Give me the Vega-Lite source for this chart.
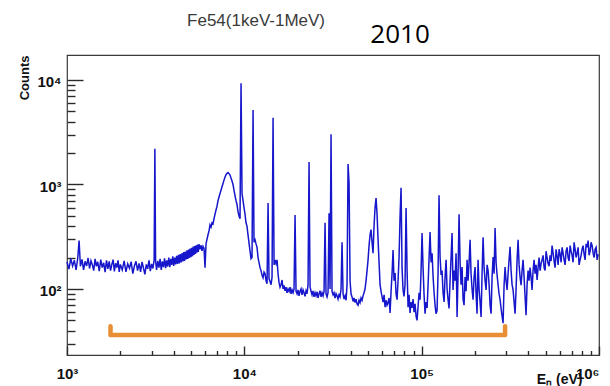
{
  "$schema": "https://vega.github.io/schema/vega-lite/v6.json",
  "width": 532,
  "height": 300,
  "autosize": {"type": "none"},
  "padding": {"left": 67, "top": 55, "right": 11, "bottom": 31},
  "background": "white",
  "config": {
    "view": {"stroke": "#3a3a3a", "strokeWidth": 1.2},
    "axis": {"grid": false, "domain": false, "labelFont": "Liberation Sans", "titleFont": "Liberation Sans"}
  },
  "datasets": {
    "spectrum": [
      {"E":1000,"counts":182},{"E":1025,"counts":155},{"E":1050,"counts":195},{"E":1075,"counts":166},{"E":1100,"counts":188},{"E":1125,"counts":152},{"E":1150,"counts":198},{"E":1170,"counts":290},{"E":1190,"counts":165},{"E":1215,"counts":192},{"E":1240,"counts":152},{"E":1265,"counts":184},{"E":1290,"counts":166},{"E":1315,"counts":198},{"E":1340,"counts":157},{"E":1365,"counts":186},{"E":1390,"counts":170},{"E":1415,"counts":150},{"E":1440,"counts":194},{"E":1465,"counts":165},{"E":1490,"counts":182},{"E":1520,"counts":148},{"E":1550,"counts":191},{"E":1580,"counts":160},{"E":1610,"counts":178},{"E":1640,"counts":145},{"E":1670,"counts":188},{"E":1700,"counts":156},{"E":1730,"counts":184},{"E":1760,"counts":150},{"E":1790,"counts":172},{"E":1820,"counts":191},{"E":1850,"counts":147},{"E":1880,"counts":176},{"E":1910,"counts":160},{"E":1940,"counts":188},{"E":1970,"counts":146},{"E":2000,"counts":172},{"E":2050,"counts":152},{"E":2100,"counts":186},{"E":2150,"counts":146},{"E":2200,"counts":174},{"E":2250,"counts":158},{"E":2300,"counts":182},{"E":2350,"counts":140},{"E":2400,"counts":166},{"E":2450,"counts":184},{"E":2500,"counts":150},{"E":2550,"counts":176},{"E":2600,"counts":146},{"E":2650,"counts":182},{"E":2700,"counts":158},{"E":2750,"counts":138},{"E":2800,"counts":172},{"E":2850,"counts":156},{"E":2900,"counts":188},{"E":2950,"counts":148},{"E":3000,"counts":174},{"E":3050,"counts":157},{"E":3100,"counts":190},{"E":3130,"counts":2200},{"E":3160,"counts":184},{"E":3200,"counts":152},{"E":3250,"counts":186},{"E":3300,"counts":160},{"E":3350,"counts":194},{"E":3400,"counts":152},{"E":3450,"counts":184},{"E":3500,"counts":162},{"E":3550,"counts":196},{"E":3600,"counts":158},{"E":3650,"counts":188},{"E":3700,"counts":164},{"E":3750,"counts":200},{"E":3800,"counts":162},{"E":3850,"counts":194},{"E":3900,"counts":170},{"E":3950,"counts":205},{"E":4000,"counts":166},{"E":4050,"counts":200},{"E":4100,"counts":172},{"E":4150,"counts":208},{"E":4200,"counts":174},{"E":4250,"counts":212},{"E":4300,"counts":176},{"E":4350,"counts":216},{"E":4400,"counts":180},{"E":4450,"counts":220},{"E":4500,"counts":184},{"E":4550,"counts":226},{"E":4600,"counts":186},{"E":4650,"counts":228},{"E":4700,"counts":192},{"E":4750,"counts":234},{"E":4800,"counts":194},{"E":4850,"counts":238},{"E":4900,"counts":198},{"E":4950,"counts":244},{"E":5000,"counts":202},{"E":5050,"counts":248},{"E":5100,"counts":206},{"E":5150,"counts":254},{"E":5200,"counts":212},{"E":5250,"counts":258},{"E":5300,"counts":216},{"E":5350,"counts":262},{"E":5400,"counts":222},{"E":5450,"counts":266},{"E":5500,"counts":226},{"E":5550,"counts":268},
      {"E":5625,"counts":240},{"E":5699,"counts":262},{"E":5773,"counts":232},{"E":5848,"counts":256},{"E":5925,"counts":244},{"E":6003,"counts":160},{"E":6081,"counts":270},{"E":6161,"counts":300},{"E":6241,"counts":330},{"E":6323,"counts":360},{"E":6405,"counts":410},{"E":6489,"counts":390},{"E":6573,"counts":430},{"E":6659,"counts":420},{"E":6746,"counts":470},{"E":6834,"counts":520},{"E":6924,"counts":570},{"E":7014,"counts":620},{"E":7106,"counts":700},{"E":7199,"counts":760},{"E":7293,"counts":820},{"E":7388,"counts":880},{"E":7485,"counts":950},{"E":7583,"counts":1020},{"E":7682,"counts":1100},{"E":7782,"counts":1180},{"E":7884,"counts":1240},{"E":7987,"counts":1280},{"E":8091,"counts":1300},{"E":8197,"counts":1270},{"E":8304,"counts":1230},{"E":8413,"counts":1150},{"E":8522,"counts":1080},{"E":8634,"counts":1000},{"E":8747,"counts":880},{"E":8861,"counts":780},{"E":8977,"counts":700},{"E":9094,"counts":640},{"E":9214,"counts":550},{"E":9334,"counts":500},{"E":9457,"counts":470},{"E":9581,"counts":9300},{"E":9706,"counts":820},{"E":9833,"counts":700},{"E":9961,"counts":600},
      {"E":10090,"counts":520},{"E":10220,"counts":430},{"E":10350,"counts":400},{"E":10490,"counts":330},{"E":10630,"counts":275},{"E":10770,"counts":230},{"E":10910,"counts":195},{"E":11050,"counts":200},{"E":11200,"counts":5160},{"E":11340,"counts":280},{"E":11490,"counts":295},{"E":11640,"counts":270},{"E":11790,"counts":250},{"E":11950,"counts":200},{"E":12100,"counts":180},{"E":12260,"counts":160},{"E":12420,"counts":150},{"E":12590,"counts":135},{"E":12750,"counts":128},{"E":12920,"counts":145},{"E":13090,"counts":140},{"E":13260,"counts":120},{"E":13430,"counts":112},{"E":13610,"counts":665},{"E":13780,"counts":125},{"E":13960,"counts":118},{"E":14150,"counts":110},{"E":14330,"counts":130},{"E":14520,"counts":4360},{"E":14710,"counts":170},{"E":14900,"counts":190},{"E":15100,"counts":175},{"E":15290,"counts":190},{"E":15490,"counts":140},{"E":15700,"counts":115},{"E":15900,"counts":104},{"E":16110,"counts":110},{"E":16320,"counts":122},{"E":16530,"counts":100},{"E":16750,"counts":108},{"E":16970,"counts":96},{"E":17190,"counts":104},{"E":17410,"counts":92},{"E":17640,"counts":100},{"E":17870,"counts":95},{"E":18110,"counts":104},{"E":18340,"counts":90},{"E":18580,"counts":98},{"E":18830,"counts":92},{"E":19070,"counts":100},{"E":19320,"counts":510},{"E":19570,"counts":95},{"E":19830,"counts":90},{"E":20080,"counts":98},{"E":20340,"counts":86},{"E":20610,"counts":95},{"E":20880,"counts":100},{"E":21150,"counts":88},{"E":21430,"counts":98},{"E":21710,"counts":92},{"E":21990,"counts":85},{"E":22280,"counts":96},{"E":22570,"counts":90},{"E":22870,"counts":110},{"E":23170,"counts":1640},{"E":23470,"counts":105},{"E":23780,"counts":95},{"E":24090,"counts":88},{"E":24400,"counts":96},{"E":24720,"counts":84},{"E":25050,"counts":92},{"E":25370,"counts":86},{"E":25710,"counts":94},{"E":26040,"counts":82},{"E":26380,"counts":90},{"E":26730,"counts":96},{"E":27080,"counts":84},{"E":27430,"counts":92},{"E":27790,"counts":86},{"E":28150,"counts":95},{"E":28520,"counts":430},{"E":28890,"counts":90},{"E":29270,"counts":84},{"E":29650,"counts":92},{"E":30040,"counts":530},{"E":30430,"counts":100},{"E":30830,"counts":3030},{"E":31230,"counts":95},{"E":31640,"counts":88},{"E":32050,"counts":92},{"E":32470,"counts":82},{"E":32900,"counts":90},{"E":33330,"counts":86},{"E":33760,"counts":80},{"E":34200,"counts":88},{"E":34650,"counts":84},{"E":35100,"counts":100},{"E":35560,"counts":280},{"E":36030,"counts":90},{"E":36500,"counts":80},{"E":36980,"counts":86},{"E":37460,"counts":78},{"E":37950,"counts":110},{"E":38450,"counts":1570},{"E":38950,"counts":1030},{"E":39460,"counts":120},{"E":39970,"counts":90},{"E":40490,"counts":84},{"E":41020,"counts":76},{"E":41550,"counts":82},{"E":42100,"counts":74},{"E":42660,"counts":80},{"E":43210,"counts":72},{"E":43780,"counts":70},{"E":44350,"counts":78},{"E":44930,"counts":74},{"E":45520,"counts":82},{"E":46110,"counts":78},{"E":46710,"counts":86},{"E":47320,"counts":92},{"E":47940,"counts":100},{"E":48570,"counts":120},{"E":49210,"counts":150},{"E":49850,"counts":190},{"E":50500,"counts":260},{"E":51170,"counts":330},{"E":51830,"counts":370},{"E":52500,"counts":280},{"E":53190,"counts":220},{"E":53890,"counts":400},{"E":54590,"counts":600},{"E":55310,"counts":740},{"E":56030,"counts":520},{"E":56760,"counts":300},{"E":57500,"counts":180},{"E":58260,"counts":110},
      {"E":59020,"counts":95},{"E":59800,"counts":84},{"E":60580,"counts":75},{"E":61380,"counts":88},{"E":62180,"counts":67},{"E":62990,"counts":78},{"E":63810,"counts":70},{"E":64650,"counts":74},{"E":65490,"counts":82},{"E":66350,"counts":59},{"E":67210,"counts":95},{"E":68080,"counts":140},{"E":68970,"counts":236},{"E":69870,"counts":120},{"E":70790,"counts":142},{"E":71710,"counts":90},{"E":72650,"counts":79},{"E":73590,"counts":120},{"E":74550,"counts":200},{"E":75530,"counts":490},{"E":76520,"counts":930},{"E":77510,"counts":160},{"E":78520,"counts":98},{"E":79530,"counts":85},{"E":80570,"counts":110},{"E":81660,"counts":595},{"E":82730,"counts":150},{"E":83810,"counts":67},{"E":84900,"counts":88},{"E":86010,"counts":59},{"E":87130,"counts":75},{"E":88270,"counts":66},{"E":89420,"counts":80},{"E":90600,"counts":60},{"E":91780,"counts":72},{"E":92980,"counts":55},{"E":94190,"counts":50},{"E":95440,"counts":68},{"E":96690,"counts":92},{"E":97950,"counts":79},{"E":99230,"counts":150},{"E":100500,"counts":343},{"E":101800,"counts":162},{"E":103100,"counts":90},{"E":104500,"counts":58},{"E":105900,"counts":75},{"E":107300,"counts":66},{"E":108700,"counts":110},{"E":110100,"counts":200},{"E":111500,"counts":350},{"E":113000,"counts":180},{"E":114500,"counts":220},{"E":116000,"counts":130},{"E":117500,"counts":92},{"E":119000,"counts":70},{"E":120500,"counts":58},{"E":122100,"counts":62},{"E":123700,"counts":140},{"E":125300,"counts":790},{"E":127000,"counts":200},{"E":128700,"counts":136},{"E":130300,"counts":150},{"E":132000,"counts":92},{"E":133800,"counts":75},{"E":135500,"counts":130},{"E":137300,"counts":190},{"E":139100,"counts":100},{"E":140900,"counts":79},{"E":142700,"counts":65},{"E":144600,"counts":120},{"E":146500,"counts":200},{"E":148400,"counts":343},{"E":150300,"counts":98},{"E":152300,"counts":150},{"E":154300,"counts":120},{"E":156300,"counts":220},{"E":158400,"counts":54},{"E":160400,"counts":140},{"E":162500,"counts":520},{"E":164700,"counts":180},{"E":166800,"counts":110},{"E":169000,"counts":162},{"E":171200,"counts":80},{"E":173400,"counts":70},{"E":175700,"counts":130},{"E":178000,"counts":95},{"E":180300,"counts":190},{"E":182700,"counts":120},{"E":185100,"counts":180},{"E":187500,"counts":295},{"E":189900,"counts":140},{"E":192400,"counts":100},{"E":194900,"counts":79},{"E":197500,"counts":130},{"E":200100,"counts":162},{"E":202700,"counts":90},{"E":205300,"counts":58},{"E":208000,"counts":190},{"E":210700,"counts":100},{"E":213500,"counts":75},{"E":216300,"counts":54},{"E":219100,"counts":140},{"E":222000,"counts":313},{"E":224900,"counts":160},{"E":227800,"counts":120},{"E":230800,"counts":98},{"E":233800,"counts":170},{"E":236900,"counts":150},{"E":240000,"counts":110},{"E":243100,"counts":70},{"E":246300,"counts":58},{"E":249500,"counts":130},{"E":252800,"counts":202},{"E":256100,"counts":140},{"E":259400,"counts":384},{"E":262800,"counts":180},{"E":266200,"counts":136},{"E":269700,"counts":110},{"E":273200,"counts":90},{"E":276800,"counts":79},{"E":280400,"counts":65},{"E":284100,"counts":55},{"E":287800,"counts":47},{"E":291600,"counts":110},{"E":295400,"counts":162},{"E":299200,"counts":120},{"E":303100,"counts":98},{"E":307100,"counts":140},{"E":311100,"counts":190},{"E":315200,"counts":253},{"E":319300,"counts":150},{"E":323500,"counts":110},{"E":327700,"counts":98},{"E":332000,"counts":75},{"E":336300,"counts":58},{"E":340700,"counts":100},{"E":345200,"counts":190},{"E":349700,"counts":295},{"E":354300,"counts":170},{"E":358900,"counts":130},{"E":363600,"counts":109},{"E":368300,"counts":150},{"E":373100,"counts":190},{"E":378000,"counts":130},{"E":382900,"counts":85},{"E":387900,"counts":56},{"E":393000,"counts":110},{"E":398200,"counts":150},{"E":403400,"counts":120},{"E":408600,"counts":160},{"E":414000,"counts":130},{"E":419400,"counts":98},{"E":424900,"counts":150},{"E":430500,"counts":190},{"E":436100,"counts":140},{"E":441700,"counts":170},{"E":447500,"counts":122},{"E":453400,"counts":160},{"E":459300,"counts":200},{"E":465300,"counts":150},
      {"E":471400,"counts":175},{"E":477600,"counts":190},{"E":483800,"counts":210},{"E":490200,"counts":160},{"E":496600,"counts":150},{"E":503000,"counts":230},{"E":509600,"counts":200},{"E":516300,"counts":175},{"E":523000,"counts":165},{"E":529900,"counts":210},{"E":536800,"counts":185},{"E":543800,"counts":260},{"E":551000,"counts":220},{"E":558200,"counts":185},{"E":565500,"counts":160},{"E":572800,"counts":240},{"E":580300,"counts":205},{"E":587900,"counts":170},{"E":595600,"counts":240},{"E":603400,"counts":215},{"E":611300,"counts":180},{"E":619300,"counts":250},{"E":627400,"counts":220},{"E":635600,"counts":190},{"E":643900,"counts":170},{"E":652200,"counts":230},{"E":660800,"counts":250},{"E":669400,"counts":200},{"E":678200,"counts":185},{"E":687100,"counts":260},{"E":696100,"counts":230},{"E":705100,"counts":210},{"E":714300,"counts":180},{"E":723700,"counts":280},{"E":733100,"counts":240},{"E":742700,"counts":200},{"E":752400,"counts":220},{"E":762300,"counts":250},{"E":772200,"counts":170},{"E":782400,"counts":190},{"E":792600,"counts":210},{"E":803000,"counts":240},{"E":813500,"counts":260},{"E":824100,"counts":215},{"E":834900,"counts":190},{"E":845800,"counts":270},{"E":856900,"counts":250},{"E":868100,"counts":290},{"E":879400,"counts":210},{"E":891000,"counts":230},{"E":902600,"counts":280},{"E":914500,"counts":260},{"E":926400,"counts":220},{"E":938500,"counts":200},{"E":950800,"counts":240},{"E":963000,"counts":250},{"E":975800,"counts":190},{"E":988300,"counts":215}
    ],
    "bracket": [
      {"E": 1759, "counts": 44, "step": 1},
      {"E": 1759, "counts": 36.3, "step": 2},
      {"E": 295400, "counts": 36.3, "step": 3},
      {"E": 295400, "counts": 44, "step": 4}
    ]
  },
  "resolve": {"axis": {"x": "independent", "y": "independent"}},
  "layer": [
    {
      "data": {"name": "spectrum"},
      "mark": {"type": "line", "color": "#1616cc", "strokeWidth": 1.5},
      "encoding": {
        "x": {
          "field": "E", "type": "quantitative",
          "scale": {"type": "log", "domain": [1000, 1000000]},
          "axis": {
            "orient": "bottom",
            "offset": -9,
            "values": [1000, 10000, 100000, 1000000],
            "tickSize": 9,
            "tickWidth": 1.4,
            "tickColor": "#2a2a2a",
            "labelExpr": "datum.value >= 1000000 ? '10⁶' : datum.value >= 100000 ? '10⁵' : datum.value >= 10000 ? '10⁴' : '10³'",
            "labelFontSize": 15,
            "labelFontWeight": "bold",
            "labelColor": "#111111",
            "labelPadding": 11,
            "labelAlign": {"condition": {"test": "datum.value >= 1000000", "value": "right"}, "value": "center"},
            "labelBound": false,
            "labelOverlap": false,
            "labelFlush": false,
            "title": "Eₙ (eV)",
            "titleX": 515,
            "titleY": 37,
            "titleAlign": "right",
            "titleBaseline": "alphabetic",
            "titleFontSize": 14,
            "titleFontWeight": "bold",
            "titleColor": "#111111"
          }
        },
        "y": {
          "field": "counts", "type": "quantitative",
          "scale": {"type": "log", "domain": [23.35, 17340]},
          "axis": {
            "orient": "left",
            "offset": -16,
            "values": [100, 1000, 10000],
            "tickSize": 16,
            "tickWidth": 1.4,
            "tickColor": "#2a2a2a",
            "labelExpr": "datum.value >= 10000 ? '10⁴' : datum.value >= 1000 ? '10³' : '10²'",
            "labelFontSize": 15,
            "labelFontWeight": "bold",
            "labelColor": "#111111",
            "labelPadding": 6,
            "labelOffset": 2,
            "labelAlign": "right",
            "labelBaseline": "middle",
            "labelBound": false,
            "labelOverlap": false,
            "title": "Counts",
            "titleX": -59,
            "titleY": 0,
            "titleAngle": -90,
            "titleAlign": "right",
            "titleBaseline": "middle",
            "titleFontSize": 13,
            "titleFontWeight": "bold",
            "titleColor": "#111111"
          }
        }
      }
    },
    {
      "data": {"name": "bracket"},
      "mark": {"type": "line", "color": "#e88e35", "strokeWidth": 4.5, "strokeCap": "round", "strokeJoin": "round"},
      "encoding": {
        "x": {
          "field": "E", "type": "quantitative",
          "scale": {"type": "log", "domain": [1000, 1000000]},
          "axis": {
            "orient": "bottom",
            "offset": -4.5,
            "values": [2000, 3000, 4000, 5000, 6000, 7000, 8000, 9000, 20000, 30000, 40000, 50000, 60000, 70000, 80000, 90000, 200000, 300000, 400000, 500000, 600000, 700000, 800000, 900000],
            "tickSize": 4.5, "tickWidth": 1.4, "tickColor": "#2a2a2a",
            "labels": false,
            "title": null
          }
        },
        "y": {
          "field": "counts", "type": "quantitative",
          "scale": {"type": "log", "domain": [23.35, 17340]},
          "axis": {
            "orient": "left",
            "offset": -8,
            "values": [30, 40, 50, 60, 70, 80, 90, 200, 300, 400, 500, 600, 700, 800, 900, 2000, 3000, 4000, 5000, 6000, 7000, 8000, 9000],
            "tickSize": 8, "tickWidth": 1.4, "tickColor": "#2a2a2a",
            "labels": false,
            "title": null
          }
        },
        "order": {"field": "step", "type": "quantitative"}
      }
    },
    {
      "data": {"values": [{"label": "2010", "E": 75530, "counts": 22450}]},
      "mark": {"type": "text", "font": "Open Sans", "fontSize": 26, "align": "center", "baseline": "alphabetic", "color": "#000000"},
      "encoding": {
        "x": {"field": "E", "type": "quantitative", "scale": {"type": "log", "domain": [1000, 1000000]}, "axis": null},
        "y": {"field": "counts", "type": "quantitative", "scale": {"type": "log", "domain": [23.35, 17340]}, "axis": null},
        "text": {"field": "label"}
      }
    },
    {
      "data": {"values": [{"label": "Fe54(1keV-1MeV)", "E": 11640, "counts": 32860}]},
      "mark": {"type": "text", "font": "Liberation Sans", "fontSize": 17, "align": "center", "baseline": "alphabetic", "color": "#3a3a3a"},
      "encoding": {
        "x": {"field": "E", "type": "quantitative", "scale": {"type": "log", "domain": [1000, 1000000]}, "axis": null},
        "y": {"field": "counts", "type": "quantitative", "scale": {"type": "log", "domain": [23.35, 17340]}, "axis": null},
        "text": {"field": "label"}
      }
    }
  ]
}
